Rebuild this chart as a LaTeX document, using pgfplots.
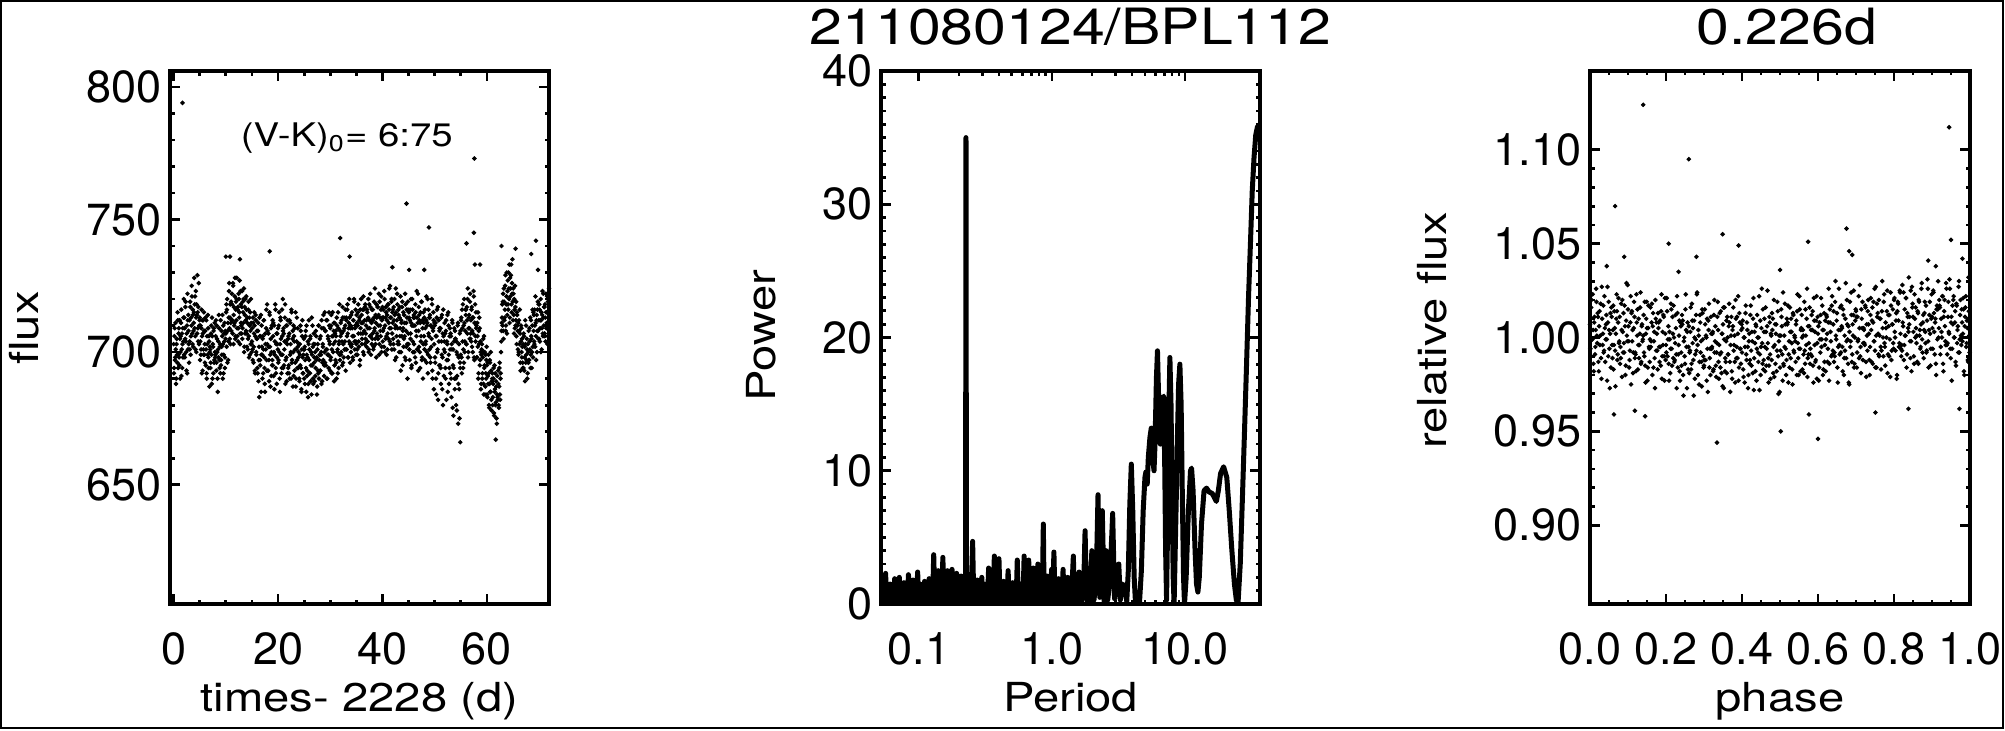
\documentclass[border=0pt]{standalone}
\usepackage{fontspec}
\setmainfont{TeX Gyre Heros}
\newfontfamily\widefont[FakeStretch=1.18]{TeX Gyre Heros}
\usepackage{pgfplots}
\pgfplotsset{compat=1.18}

% IDL-like box axes: ticks inside on all four sides
\pgfplotsset{
  every axis title shift=0pt,
  idl/.style={
    scale only axis, width=151.6pt, height=213.2pt,
    anchor=south west,
    axis line style={line width=1.7pt},
    tick align=inside,
    major tick length=4pt, minor tick length=1.8pt,
    every tick/.style={black, line width=1.1pt},
    tick label style={font=\fontsize{18}{20}\selectfont},
    /pgf/number format/assume math mode=true,
    xticklabel style={anchor=base, yshift=-24pt},
    label style={font=\widefont\fontsize{16}{18}\selectfont},
    xlabel style={at={(axis description cs:0.5,-0.2026)}, anchor=base},
    title style={font=\widefont\fontsize{20}{22}\selectfont,
      at={(axis description cs:0.5,1.05)}, anchor=base},
  },
  dots/.style={only marks, mark=*, mark size=0.7pt,
    mark options={draw=none, fill=black}},
}

\begin{document}
\begin{tikzpicture}
\useasboundingbox (0,0) rectangle (802pt,292pt);
\draw[line width=0.8pt] (0.4pt,0.8pt) rectangle (801pt,291.6pt);

% ---------------- light curve ----------------
\begin{axis}[idl, at={(68pt,50.4pt)},
  xmin=-0.7, xmax=71.9, ymin=605, ymax=806,
  xtick={0,20,40,60}, ytick={650,700,750,800},
  minor x tick num=3, minor y tick num=4,
  xlabel={times- 2228 (d)}, ylabel={flux},
  ylabel style={at={(axis description cs:-0.348,0.518)}, anchor=base}]
\addplot[dots] coordinates {
(0.0,703)(0.1,694)(0.2,709)(0.3,698)(0.4,701)(0.5,690)(0.6,705)(0.7,696)(0.8,712)(0.9,699)
(1.0,709)(1.1,695)(1.2,705)(1.3,700)(1.4,711)(1.5,691)(1.6,707)(1.7,703)(1.8,698)(1.9,713)
(2.0,699)(2.1,709)(2.2,705)(2.3,719)(2.4,700)(2.5,707)(2.6,692)(2.7,712)(2.8,714)(2.9,703)
(3.0,712)(3.1,701)(3.2,717)(3.3,706)(3.4,710)(3.5,721)(3.6,703)(3.7,714)(3.8,708)(3.9,715)
(4.0,709)(4.1,721)(4.2,701)(4.3,713)(4.4,718)(4.5,707)(4.6,715)(4.7,704)(4.8,726)(4.9,710)
(5.0,713)(5.1,704)(5.2,699)(5.3,709)(5.4,692)(5.5,712)(5.6,707)(5.7,701)(5.8,715)(5.9,699)
(6.0,696)(6.1,713)(6.2,701)(6.3,692)(6.4,706)(6.5,699)(6.6,709)(6.7,694)(6.8,704)(6.9,700)
(7.0,701)(7.1,696)(7.2,710)(7.3,688)(7.4,706)(7.5,703)(7.6,692)(7.7,709)(7.8,697)(7.9,700)
(8.0,699)(8.1,712)(8.2,696)(8.3,705)(8.4,690)(8.5,701)(8.6,698)(8.7,709)(8.8,694)(8.9,703)
(9.0,712)(9.1,697)(9.2,702)(9.3,706)(9.4,690)(9.5,710)(9.6,699)(9.7,704)(9.8,694)(9.9,708)
(10.0,707)(10.1,718)(10.2,716)(10.3,696)(10.4,711)(10.5,704)(10.6,723)(10.7,709)(10.8,713)(10.9,703)
(11.0,719)(11.1,712)(11.2,718)(11.3,707)(11.4,725)(11.5,714)(11.6,710)(11.7,721)(11.8,705)(11.9,716)
(12.0,712)(12.1,728)(12.2,706)(12.3,717)(12.4,709)(12.5,720)(12.6,715)(12.7,703)(12.8,723)(12.9,711)
(13.0,707)(13.1,723)(13.2,709)(13.3,715)(13.4,720)(13.5,700)(13.6,717)(13.7,707)(13.8,712)(13.9,721)
(14.0,707)(14.1,711)(14.2,701)(14.3,716)(14.4,706)(14.5,713)(14.6,699)(14.7,708)(14.8,720)(14.9,703)
(15.0,704)(15.1,701)(15.2,713)(15.3,696)(15.4,707)(15.5,710)(15.6,692)(15.7,714)(15.8,700)(15.9,705)
(16.0,705)(16.1,692)(16.2,711)(16.3,697)(16.4,683)(16.5,706)(16.6,695)(16.7,714)(16.8,699)(16.9,702)
(17.0,690)(17.1,706)(17.2,701)(17.3,712)(17.4,694)(17.5,685)(17.6,703)(17.7,709)(17.8,697)(17.9,718)
(18.0,708)(18.1,693)(18.2,702)(18.3,689)(18.4,714)(18.5,699)(18.6,705)(18.7,691)(18.8,710)(18.9,697)
(19.0,695)(19.1,711)(19.2,700)(19.3,686)(19.4,704)(19.5,716)(19.6,692)(19.7,707)(19.8,698)(19.9,703)
(20.0,709)(20.1,697)(20.2,715)(20.3,690)(20.4,703)(20.5,712)(20.6,699)(20.7,694)(20.8,706)(20.9,720)
(21.0,694)(21.1,707)(21.2,701)(21.3,713)(21.4,688)(21.5,704)(21.6,698)(21.7,710)(21.8,692)(21.9,705)
(22.0,706)(22.1,692)(22.2,712)(22.3,699)(22.4,703)(22.5,690)(22.6,715)(22.7,697)(22.8,708)(22.9,700)
(23.0,691)(23.1,704)(23.2,709)(23.3,696)(23.4,687)(23.5,701)(23.6,713)(23.7,694)(23.8,702)(23.9,698)
(24.0,703)(24.1,689)(24.2,699)(24.3,710)(24.4,694)(24.5,685)(24.6,706)(24.7,698)(24.8,692)(24.9,701)
(25.0,690)(25.1,702)(25.2,697)(25.3,708)(25.4,685)(25.5,699)(25.6,693)(25.7,704)(25.8,688)(25.9,712)
(26.0,701)(26.1,692)(26.2,706)(26.3,695)(26.4,684)(26.5,699)(26.6,710)(26.7,690)(26.8,703)(26.9,696)
(27.0,689)(27.1,700)(27.2,694)(27.3,706)(27.4,698)(27.5,687)(27.6,703)(27.7,692)(27.8,710)(27.9,697)
(28.0,705)(28.1,693)(28.2,699)(28.3,688)(28.4,709)(28.5,696)(28.6,702)(28.7,714)(28.8,691)(28.9,700)
(29.0,696)(29.1,708)(29.2,701)(29.3,690)(29.4,712)(29.5,699)(29.6,705)(29.7,694)(29.8,710)(29.9,703)
(30.0,709)(30.1,698)(30.2,714)(30.3,701)(30.4,692)(30.5,706)(30.6,703)(30.7,711)(30.8,695)(30.9,707)
(31.0,697)(31.1,706)(31.2,690)(31.3,710)(31.4,701)(31.5,715)(31.6,694)(31.7,704)(31.8,699)(31.9,708)
(32.0,711)(32.1,700)(32.2,707)(32.3,695)(32.4,713)(32.5,703)(32.6,698)(32.7,709)(32.8,704)(32.9,716)
(33.0,701)(33.1,712)(33.2,706)(33.3,718)(33.4,698)(33.5,709)(33.6,704)(33.7,713)(33.8,696)(33.9,710)
(34.0,714)(34.1,703)(34.2,709)(34.3,698)(34.4,712)(34.5,706)(34.6,719)(34.7,701)(34.8,710)(34.9,704)
(35.0,703)(35.1,711)(35.2,699)(35.3,715)(35.4,707)(35.5,702)(35.6,713)(35.7,697)(35.8,709)(35.9,720)
(36.0,714)(36.1,705)(36.2,711)(36.3,700)(36.4,716)(36.5,708)(36.6,703)(36.7,718)(36.8,707)(36.9,712)
(37.0,704)(37.1,715)(37.2,709)(37.3,720)(37.4,701)(37.5,712)(37.6,706)(37.7,717)(37.8,699)(37.9,711)
(38.0,716)(38.1,707)(38.2,712)(38.3,702)(38.4,719)(38.5,709)(38.6,705)(38.7,714)(38.8,698)(38.9,713)
(39.0,706)(39.1,717)(39.2,710)(39.3,722)(39.4,703)(39.5,713)(39.6,708)(39.7,716)(39.8,700)(39.9,712)
(40.0,717)(40.1,708)(40.2,713)(40.3,702)(40.4,720)(40.5,710)(40.6,705)(40.7,715)(40.8,699)(40.9,714)
(41.0,707)(41.1,718)(41.2,711)(41.3,724)(41.4,704)(41.5,713)(41.6,709)(41.7,719)(41.8,701)(41.9,715)
(42.0,716)(42.1,703)(42.2,712)(42.3,720)(42.4,697)(42.5,710)(42.6,715)(42.7,706)(42.8,722)(42.9,709)
(43.0,704)(43.1,714)(43.2,700)(43.3,717)(43.4,709)(43.5,693)(43.6,712)(43.7,706)(43.8,719)(43.9,708)
(44.0,715)(44.1,705)(44.2,711)(44.3,698)(44.4,718)(44.5,708)(44.6,702)(44.7,713)(44.8,690)(44.9,716)
(45.0,703)(45.1,713)(45.2,697)(45.3,716)(45.4,707)(45.5,711)(45.6,695)(45.7,720)(45.8,704)(45.9,710)
(46.0,714)(46.1,700)(46.2,710)(46.3,718)(46.4,696)(46.5,706)(46.6,713)(46.7,701)(46.8,722)(46.9,708)
(47.0,702)(47.1,712)(47.2,694)(47.3,715)(47.4,706)(47.5,719)(47.6,698)(47.7,709)(47.8,703)(47.9,711)
(48.0,713)(48.1,697)(48.2,709)(48.3,704)(48.4,721)(48.5,700)(48.6,711)(48.7,692)(48.8,716)(48.9,706)
(49.0,701)(49.1,714)(49.2,696)(49.3,710)(49.4,705)(49.5,718)(49.6,690)(49.7,708)(49.8,712)(49.9,703)
(50.0,710)(50.1,696)(50.2,706)(50.3,684)(50.4,713)(50.5,700)(50.6,717)(50.7,692)(50.8,704)(50.9,708)
(51.0,695)(51.1,709)(51.2,688)(51.3,704)(51.4,714)(51.5,698)(51.6,680)(51.7,706)(51.8,701)(51.9,711)
(52.0,707)(52.1,690)(52.2,712)(52.3,697)(52.4,703)(52.5,685)(52.6,715)(52.7,699)(52.8,694)(52.9,709)
(53.0,692)(53.1,706)(53.2,683)(53.3,701)(53.4,711)(53.5,695)(53.6,676)(53.7,704)(53.8,690)(53.9,708)
(54.0,705)(54.1,680)(54.2,700)(54.3,691)(54.4,710)(54.5,673)(54.6,698)(54.7,686)(54.8,707)(54.9,694)
(55.0,699)(55.1,713)(55.2,692)(55.3,709)(55.4,718)(55.5,701)(55.6,696)(55.7,711)(55.8,704)(55.9,716)
(56.0,716)(56.1,703)(56.2,712)(56.3,720)(56.4,698)(56.5,709)(56.6,714)(56.7,705)(56.8,722)(56.9,707)
(57.0,704)(57.1,717)(57.2,708)(57.3,700)(57.4,713)(57.5,721)(57.6,697)(57.7,711)(57.8,706)(57.9,715)
(58.0,710)(58.1,698)(58.2,706)(58.3,715)(58.4,692)(58.5,703)(58.6,709)(58.7,697)(58.8,700)(58.9,688)
(59.0,701)(59.1,690)(59.2,698)(59.3,705)(59.4,684)(59.5,694)(59.6,700)(59.7,687)(59.8,692)(59.9,697)
(60.0,695)(60.1,683)(60.2,691)(60.3,699)(60.4,680)(60.5,688)(60.6,696)(60.7,685)(60.8,693)(60.9,678)
(61.0,690)(61.1,680)(61.2,688)(61.3,694)(61.4,676)(61.5,685)(61.6,692)(61.7,681)(61.8,687)(61.9,673)
(62.0,691)(62.1,682)(62.2,688)(62.3,679)(62.4,694)(62.5,684)(62.6,690)(62.7,700)(62.8,708)(62.9,713)
(63.0,710)(63.1,722)(63.2,705)(63.3,719)(63.4,713)(63.5,725)(63.6,708)(63.7,718)(63.8,730)(63.9,714)
(64.0,727)(64.1,716)(64.2,724)(64.3,733)(64.4,713)(64.5,721)(64.6,729)(64.7,718)(64.8,726)(64.9,735)
(65.0,712)(65.1,722)(65.2,707)(65.3,716)(65.4,725)(65.5,710)(65.6,719)(65.7,703)(65.8,714)(65.9,708)
(66.0,711)(66.1,700)(66.2,708)(66.3,716)(66.4,696)(66.5,704)(66.6,709)(66.7,698)(66.8,702)(66.9,694)
(67.0,694)(67.1,706)(67.2,698)(67.3,689)(67.4,703)(67.5,710)(67.6,697)(67.7,701)(67.8,692)(67.9,700)
(68.0,708)(68.1,697)(68.2,704)(68.3,713)(68.4,699)(68.5,706)(68.6,694)(68.7,710)(68.8,702)(68.9,715)
(69.0,714)(69.1,703)(69.2,710)(69.3,721)(69.4,706)(69.5,712)(69.6,700)(69.7,716)(69.8,708)(69.9,718)
(70.0,705)(70.1,716)(70.2,709)(70.3,720)(70.4,712)(70.5,701)(70.6,714)(70.7,707)(70.8,722)(70.9,710)
(71.0,717)(71.1,706)(71.2,713)(71.3,722)(71.4,709)(71.5,715)(71.6,703)(71.7,719)(71.8,711)(71.9,724)
(1.7,794)(57.6,773)(44.6,756)(48.9,747)(31.9,743)(57.5,745)(56.1,741)(69.4,742)
(62.8,740)(65.5,739)(33.7,736)(18.4,738)(10.0,736)(10.8,736)(12.7,735)(41.9,732)
(45.1,731)(48.0,731)(57.7,733)(58.7,733)(54.9,666)(61.7,667)(68.5,737)(69.8,731)
};
\addplot[dots] coordinates {
(0.05,692)(0.15,706)(0.25,697)(0.35,711)(0.45,688)(0.55,703)(0.65,699)(0.75,715)(0.85,694)(0.95,707)
(1.05,698)(1.15,712)(1.25,690)(1.35,706)(1.45,716)(1.55,701)(1.65,694)(1.75,709)(1.85,704)(1.95,720)
(2.05,713)(2.15,698)(2.25,717)(2.35,704)(2.45,693)(2.55,710)(2.65,722)(2.75,701)(2.85,708)(2.95,696)
(3.05,704)(3.15,719)(3.25,699)(3.35,713)(3.45,725)(3.55,707)(3.65,716)(3.75,702)(3.85,711)(3.95,728)
(4.05,718)(4.15,706)(4.25,723)(4.35,700)(4.45,714)(4.55,729)(4.65,709)(4.75,717)(4.85,703)(4.95,712)
(5.05,697)(5.15,710)(5.25,701)(5.35,716)(5.45,706)(5.55,693)(5.65,712)(5.75,699)(5.85,708)(5.95,703)
(6.05,708)(6.15,695)(6.25,712)(6.35,690)(6.45,703)(6.55,714)(6.65,698)(6.75,706)(6.85,687)(6.95,702)
(7.05,694)(7.15,707)(7.25,699)(7.35,713)(7.45,690)(7.55,702)(7.65,708)(7.75,696)(7.85,711)(7.95,698)
(8.05,706)(8.15,693)(8.25,710)(8.35,700)(8.45,685)(8.55,704)(8.65,714)(8.75,697)(8.85,702)(8.95,692)
(9.05,695)(9.15,708)(9.25,699)(9.35,714)(9.45,703)(9.55,692)(9.65,707)(9.75,711)(9.85,698)(9.95,705)
(10.05,715)(10.15,702)(10.25,720)(10.35,708)(10.45,697)(10.55,713)(10.65,726)(10.75,705)(10.85,718)(10.95,711)
(11.05,708)(11.15,722)(11.25,712)(11.35,726)(11.45,703)(11.55,717)(11.65,711)(11.75,728)(11.85,706)(11.95,719)
(12.05,720)(12.15,709)(12.25,716)(12.35,704)(12.45,722)(12.55,713)(12.65,727)(12.75,707)(12.85,718)(12.95,710)
(13.05,717)(13.15,705)(13.25,719)(13.35,711)(13.45,724)(13.55,702)(13.65,714)(13.75,720)(13.85,708)(13.95,716)
(14.05,702)(14.15,713)(14.25,705)(14.35,719)(14.45,698)(14.55,710)(14.65,715)(14.75,703)(14.85,711)(14.95,700)
(15.05,709)(15.15,697)(15.25,711)(15.35,702)(15.45,715)(15.55,693)(15.65,706)(15.75,712)(15.85,699)(15.95,708)
(16.05,694)(16.15,708)(16.25,689)(16.35,702)(16.45,713)(16.55,697)(16.65,706)(16.75,685)(16.85,710)(16.95,699)
(17.05,705)(17.15,692)(17.25,712)(17.35,698)(17.45,688)(17.55,707)(17.65,701)(17.75,716)(17.85,693)(17.95,703)
(18.05,693)(18.15,707)(18.25,697)(18.35,715)(18.45,702)(18.55,687)(18.65,709)(18.75,700)(18.85,695)(18.95,712)
(19.05,706)(19.15,691)(19.25,710)(19.35,699)(19.45,718)(19.55,694)(19.65,703)(19.75,688)(19.85,707)(19.95,701)
(20.05,696)(20.15,710)(20.25,700)(20.35,685)(20.45,713)(20.55,705)(20.65,692)(20.75,716)(20.85,699)(20.95,708)
(21.05,709)(21.15,695)(21.25,704)(21.35,718)(21.45,697)(21.55,710)(21.65,689)(21.75,703)(21.85,712)(21.95,694)
(22.05,695)(22.15,707)(22.25,690)(22.35,711)(22.45,700)(22.55,716)(22.65,696)(22.75,705)(22.85,687)(22.95,710)
(23.05,706)(23.15,693)(23.25,701)(23.35,715)(23.45,690)(23.55,704)(23.65,697)(23.75,709)(23.85,694)(23.95,700)
(24.05,690)(24.15,703)(24.25,695)(24.35,708)(24.45,686)(24.55,701)(24.65,712)(24.75,692)(24.85,699)(24.95,705)
(25.05,701)(25.15,688)(25.25,706)(25.35,694)(25.45,710)(25.55,691)(25.65,698)(25.75,683)(25.85,703)(25.95,697)
(26.05,692)(26.15,705)(26.25,689)(26.35,700)(26.45,713)(26.55,695)(26.65,702)(26.75,688)(26.85,707)(26.95,698)
(27.05,703)(27.15,691)(27.25,708)(27.35,697)(27.45,684)(27.55,701)(27.65,693)(27.75,710)(27.85,690)(27.95,699)
(28.05,693)(28.15,706)(28.25,700)(28.35,712)(28.45,689)(28.55,703)(28.65,697)(28.75,709)(28.85,695)(28.95,715)
(29.05,708)(29.15,695)(29.25,712)(29.35,701)(29.45,690)(29.55,706)(29.65,699)(29.75,715)(29.85,704)(29.95,693)
(30.05,697)(30.15,710)(30.25,692)(30.35,706)(30.45,715)(30.55,700)(30.65,708)(30.75,689)(30.85,711)(30.95,704)
(31.05,708)(31.15,696)(31.25,713)(31.35,700)(31.45,692)(31.55,709)(31.65,703)(31.75,718)(31.85,697)(31.95,706)
(32.05,699)(32.15,712)(32.25,704)(32.35,717)(32.45,696)(32.55,708)(32.65,713)(32.75,701)(32.85,710)(32.95,693)
(33.05,713)(33.15,701)(33.25,716)(33.35,707)(33.45,698)(33.55,711)(33.65,720)(33.75,703)(33.85,709)(33.95,700)
(34.05,702)(34.15,715)(34.25,706)(34.35,697)(34.45,712)(34.55,720)(34.65,704)(34.75,709)(34.85,716)(34.95,699)
(35.05,714)(35.15,701)(35.25,710)(35.35,718)(35.45,704)(35.55,712)(35.65,695)(35.75,716)(35.85,707)(35.95,711)
(36.05,703)(36.15,716)(36.25,707)(36.35,721)(36.45,699)(36.55,712)(36.65,717)(36.75,705)(36.85,710)(36.95,702)
(37.05,716)(37.15,704)(37.25,713)(37.35,700)(37.45,718)(37.55,709)(37.65,722)(37.75,706)(37.85,712)(37.95,703)
(38.05,705)(38.15,716)(38.25,701)(38.35,713)(38.45,708)(38.55,724)(38.65,703)(38.75,711)(38.85,718)(38.95,707)
(39.05,717)(39.15,705)(39.25,714)(39.35,699)(39.45,719)(39.55,710)(39.65,706)(39.75,721)(39.85,702)(39.95,713)
(40.05,704)(40.15,716)(40.25,709)(40.35,723)(40.45,700)(40.55,713)(40.65,717)(40.75,706)(40.85,712)(40.95,701)
(41.05,718)(41.15,705)(41.25,716)(41.35,709)(41.45,725)(41.55,703)(41.65,713)(41.75,720)(41.85,707)(41.95,711)
(42.05,705)(42.15,717)(42.25,701)(42.35,714)(42.45,709)(42.55,724)(42.65,698)(42.75,712)(42.85,718)(42.95,703)
(43.05,716)(43.15,703)(43.25,713)(43.35,706)(43.45,721)(43.55,700)(43.65,711)(43.75,717)(43.85,695)(43.95,709)
(44.05,702)(44.15,714)(44.25,706)(44.35,722)(44.45,697)(44.55,711)(44.65,716)(44.75,703)(44.85,719)(44.95,707)
(45.05,715)(45.15,701)(45.25,712)(45.35,705)(45.45,720)(45.55,694)(45.65,710)(45.75,716)(45.85,700)(45.95,713)
(46.05,703)(46.15,713)(46.25,698)(46.35,715)(46.45,708)(46.55,723)(46.65,701)(46.75,711)(46.85,693)(46.95,717)
(47.05,714)(47.15,700)(47.25,711)(47.35,704)(47.45,719)(47.55,697)(47.65,712)(47.75,690)(47.85,715)(47.95,706)
(48.05,701)(48.15,716)(48.25,703)(48.35,712)(48.45,696)(48.55,710)(48.65,720)(48.75,699)(48.85,707)(48.95,713)
(49.05,713)(49.15,698)(49.25,710)(49.35,702)(49.45,720)(49.55,693)(49.65,709)(49.75,715)(49.85,686)(49.95,711)
(50.05,698)(50.15,711)(50.25,690)(50.35,706)(50.45,716)(50.55,701)(50.65,682)(50.75,712)(50.85,695)(50.95,709)
(51.05,709)(51.15,694)(51.25,713)(51.35,699)(51.45,686)(51.55,707)(51.65,716)(51.75,691)(51.85,704)(51.95,700)
(52.05,694)(52.15,708)(52.25,682)(52.35,704)(52.45,714)(52.55,697)(52.65,710)(52.75,688)(52.85,706)(52.95,701)
(53.05,707)(53.15,690)(53.25,703)(53.35,712)(53.45,679)(53.55,701)(53.65,694)(53.75,709)(53.85,686)(53.95,705)
(54.05,690)(54.15,704)(54.25,678)(54.35,699)(54.45,711)(54.55,688)(54.65,703)(54.75,675)(54.85,696)(54.95,708)
(55.05,712)(55.15,698)(55.25,716)(55.35,704)(55.45,694)(55.55,710)(55.65,720)(55.75,700)(55.85,708)(55.95,714)
(56.05,703)(56.15,717)(56.25,707)(56.35,724)(56.45,700)(56.55,713)(56.65,709)(56.75,719)(56.85,705)(56.95,712)
(57.05,716)(57.15,702)(57.25,713)(57.35,707)(57.45,723)(57.55,698)(57.65,711)(57.75,718)(57.85,704)(57.95,709)
(58.05,698)(58.15,711)(58.25,702)(58.35,690)(58.45,708)(58.55,713)(58.65,695)(58.75,704)(58.85,686)(58.95,699)
(59.05,703)(59.15,692)(59.25,700)(59.35,688)(59.45,706)(59.55,695)(59.65,684)(59.75,699)(59.85,690)(59.95,702)
(60.05,684)(60.15,696)(60.25,688)(60.35,692)(60.45,679)(60.55,697)(60.65,685)(60.75,700)(60.85,682)(60.95,689)
(61.05,692)(61.15,683)(61.25,690)(61.35,677)(61.45,695)(61.55,686)(61.65,680)(61.75,689)(61.85,675)(61.95,684)
(62.05,683)(62.15,693)(62.25,680)(62.35,687)(62.45,696)(62.55,682)(62.65,692)(62.75,704)(62.85,711)(62.95,718)
(63.05,719)(63.15,708)(63.25,724)(63.35,712)(63.45,716)(63.55,729)(63.65,710)(63.75,721)(63.85,707)(63.95,723)
(64.05,718)(64.15,730)(64.25,720)(64.35,711)(64.45,728)(64.55,724)(64.65,733)(64.75,715)(64.85,722)(64.95,719)
(65.05,724)(65.15,714)(65.25,720)(65.35,709)(65.45,717)(65.55,712)(65.65,706)(65.75,715)(65.85,710)(65.95,701)
(66.05,699)(66.15,712)(66.25,703)(66.35,707)(66.45,693)(66.55,710)(66.65,700)(66.75,705)(66.85,696)(66.95,703)
(67.05,707)(67.15,693)(67.25,702)(67.35,712)(67.45,696)(67.55,699)(67.65,705)(67.75,690)(67.85,703)(67.95,696)
(68.05,697)(68.15,709)(68.25,701)(68.35,694)(68.45,712)(68.55,705)(68.65,700)(68.75,716)(68.85,698)(68.95,708)
(69.05,704)(69.15,716)(69.25,702)(69.35,711)(69.45,697)(69.55,714)(69.65,708)(69.75,719)(69.85,705)(69.95,712)
(70.05,718)(70.15,704)(70.25,712)(70.35,700)(70.45,715)(70.55,709)(70.65,723)(70.75,706)(70.85,713)(70.95,717)
(71.05,707)(71.15,718)(71.25,704)(71.35,715)(71.45,711)(71.55,721)(71.65,706)(71.75,713)(71.85,717)(71.95,708)
};
\node[anchor=base west, font=\widefont\fontsize{13}{15}\selectfont]
  at (axis cs:11.2,777.7) {(V-K)\textsubscript{0}= 6:75};
\end{axis}

% ---------------- periodogram ----------------
\begin{axis}[idl, at={(352.4pt,50.4pt)},
  xmode=log, xmin=0.052, xmax=36.6, ymin=0, ymax=40,
  xtick={0.1,1,10}, xticklabels={0.1,1.0,10.0},
  ytick={0,10,20,30,40}, minor y tick num=9,
  xlabel={Period}, ylabel={Power},
  title={211080124/BPL112},
  ylabel style={at={(axis description cs:-0.2797,0.503)}, anchor=base}]
\addplot[black, line width=2pt, line join=round] coordinates {
(0.0520,1.3)(0.0530,0.1)(0.0541,1.6)(0.0552,0.3)(0.0563,2.3)(0.0574,0.0)(0.0586,1.2)(0.0597,0.4)
(0.0609,1.5)(0.0621,0.1)(0.0634,1.0)(0.0646,0.2)(0.0659,1.9)(0.0673,0.0)(0.0686,1.3)(0.0700,0.3)
(0.0714,2.0)(0.0728,0.1)(0.0743,1.1)(0.0758,0.4)(0.0773,1.6)(0.0788,0.0)(0.0804,1.2)(0.0820,0.2)
(0.0836,2.2)(0.0853,0.1)(0.0870,1.4)(0.0888,0.3)(0.0905,1.8)(0.0924,0.0)(0.0942,1.3)(0.0961,0.2)
(0.0980,2.4)(0.1000,0.1)(0.1020,1.5)(0.1040,0.3)(0.1061,1.1)(0.1082,0.0)(0.1104,1.7)(0.1126,0.2)
(0.1149,1.4)(0.1172,0.1)(0.1195,1.9)(0.1219,0.3)(0.1243,1.2)(0.1268,0.0)(0.1294,3.7)(0.1319,0.2)
(0.1346,1.5)(0.1373,0.1)(0.1400,2.5)(0.1428,0.3)(0.1457,1.3)(0.1486,0.1)(0.1516,3.5)(0.1546,0.2)
(0.1577,1.6)(0.1609,0.0)(0.1641,2.5)(0.1674,0.3)(0.1707,1.2)(0.1741,0.1)(0.1776,2.6)(0.1812,0.2)
(0.1848,1.4)(0.1885,0.0)(0.1923,2.3)(0.1961,0.4)(0.2000,1.5)(0.2040,0.1)(0.2081,2.1)(0.2123,0.2)
(0.2165,1.3)(0.2209,0.1)(0.2245,1.4)(0.2262,35.0)(0.2280,0.3)(0.2298,1.6)(0.2344,0.1)(0.2391,2.2)
(0.2438,0.2)(0.2487,1.4)(0.2537,4.7)(0.2588,0.2)(0.2639,1.3)(0.2692,0.0)(0.2746,1.8)(0.2801,0.3)
(0.2857,1.2)(0.2914,0.1)(0.2972,2.0)(0.3032,0.2)(0.3092,1.5)(0.3154,0.0)(0.3217,1.1)(0.3282,0.3)
(0.3347,2.7)(0.3414,0.1)(0.3483,1.4)(0.3552,0.2)(0.3623,1.0)(0.3696,3.6)(0.3770,0.2)(0.3845,1.5)
(0.3922,0.1)(0.4000,3.4)(0.4080,0.3)(0.4162,1.3)(0.4245,0.0)(0.4330,1.7)(0.4417,0.2)(0.4505,1.2)
(0.4595,0.1)(0.4687,2.5)(0.4781,0.3)(0.4876,1.4)(0.4974,0.0)(0.5073,1.6)(0.5175,0.2)(0.5278,1.1)
(0.5384,0.1)(0.5492,3.3)(0.5601,0.3)(0.5713,1.5)(0.5828,0.0)(0.5944,1.2)(0.6063,0.2)(0.6184,3.6)
(0.6308,0.1)(0.6434,1.4)(0.6563,0.3)(0.6694,3.3)(0.6828,0.0)(0.6965,1.3)(0.7104,0.2)(0.7246,2.7)
(0.7391,0.1)(0.7539,1.6)(0.7690,0.4)(0.7843,3.0)(0.8000,0.1)(0.8160,1.2)(0.8323,0.2)(0.8490,1.5)
(0.8620,6.0)(0.8750,0.1)(0.8833,1.1)(0.9009,0.3)(0.9189,2.1)(0.9373,0.0)(0.9561,1.4)(0.9752,0.2)
(0.9947,2.6)(1.015,0.3)(1.035,3.9)(1.056,0.1)(1.077,1.3)(1.098,0.2)(1.120,1.9)(1.143,0.0)
(1.165,1.1)(1.189,0.3)(1.213,2.6)(1.237,0.1)(1.261,1.2)(1.287,0.2)(1.312,2.0)(1.339,0.0)
(1.365,1.4)(1.393,0.3)(1.421,1.7)(1.449,3.6)(1.478,0.1)(1.508,1.0)(1.538,0.2)(1.600,2.4)
(1.665,0.0)(1.732,1.2)(1.775,5.5)(1.820,0.5)(1.875,0.0)(1.950,1.5)(1.996,4.0)(2.070,0.3)
(2.153,1.8)(2.220,8.2)(2.290,0.5)(2.340,3.0)(2.390,7.0)(2.470,0.2)(2.550,4.0)(2.625,0.3)
(2.731,1.8)(2.860,6.8)(2.956,0.4)(3.076,2.2)(3.180,3.0)(3.264,0.3)(3.396,1.5)
(3.55,1.2)(3.65,0.2)(3.75,2.5)(3.85,7.5)(3.95,10.5)(4.05,7)(4.15,2)(4.25,0)(4.4,0)
(4.55,0.1)(4.7,2.5)(4.85,7)(5.0,9.5)(5.08,9.9)(5.2,9)(5.3,11)(5.45,12.5)(5.58,13.2)
(5.7,11)(5.85,10)(5.95,12)(6.1,17)(6.21,19)(6.35,15)(6.45,12.5)(6.53,12)(6.7,14)
(6.85,15.5)(6.92,15.6)(7.05,10)(7.15,4)(7.27,0.3)(7.4,6)(7.55,14)(7.7,18.5)(7.85,15)
(8.0,8)(8.15,2)(8.28,0)(8.4,3)(8.58,7.5)(8.75,12)(8.95,16.5)(9.15,18)(9.35,15)(9.55,8)
(9.75,2)(9.91,0)(10.2,2)(10.6,7)(11.0,10)(11.2,10.2)(11.5,8.5)(11.9,4)(12.2,1.5)
(12.5,0.9)(12.8,2)(13.3,6)(13.9,8.5)(14.5,8.7)(15.2,8.4)(16.0,8.3)(16.6,8)(17.2,7.7)
(17.8,8.5)(18.5,9.8)(19.5,10.3)(20.6,9.5)(21.5,7)(22.5,4)(23.5,1.5)(24.3,0.3)(25.0,0)
(26,3)(27,8)(28,13)(29,18)(30,23)(31,27)(32,31)(33,33.5)(34,35.2)(35,35.8)(36.6,36)
};
\end{axis}

% ---------------- phased light curve ----------------
\begin{axis}[idl, at={(636pt,50.4pt)}, width=152pt,
  xmin=0, xmax=1, ymin=0.858, ymax=1.142,
  xtick={0,0.2,0.4,0.6,0.8,1}, ytick={0.9,0.95,1,1.05,1.1},
  minor x tick num=3, minor y tick num=4,
  x tick label style={/pgf/number format/.cd, fixed, fixed zerofill, precision=1},
  y tick label style={/pgf/number format/.cd, fixed, fixed zerofill, precision=2},
  xlabel={phase}, ylabel={relative flux},
  title={0.226d},
  title style={at={(axis description cs:0.518,1.05)}},
  ylabel style={at={(axis description cs:-0.3789,0.514)}, anchor=base}]
\addplot[dots] coordinates {
(0.000,1.007)(0.002,0.990)(0.004,1.020)(0.006,0.999)(0.008,1.004)(0.010,0.982)(0.012,1.011)(0.014,0.995)(0.016,1.026)(0.018,1.001)
(0.020,1.013)(0.022,0.987)(0.024,1.006)(0.026,0.996)(0.028,1.018)(0.030,0.978)(0.032,1.010)(0.034,1.002)(0.036,0.992)(0.038,1.022)
(0.040,0.987)(0.042,1.007)(0.044,0.999)(0.046,1.027)(0.048,0.990)(0.050,1.004)(0.052,0.973)(0.054,1.013)(0.056,1.016)(0.058,0.996)
(0.060,1.004)(0.062,0.983)(0.064,1.014)(0.066,0.993)(0.068,1.002)(0.070,1.023)(0.072,0.988)(0.074,1.008)(0.076,0.997)(0.078,1.011)
(0.080,0.995)(0.082,1.018)(0.084,0.979)(0.086,1.003)(0.088,1.013)(0.090,0.992)(0.092,1.006)(0.094,0.985)(0.096,1.029)(0.098,0.998)
(0.100,1.015)(0.102,0.998)(0.104,0.988)(0.106,1.008)(0.108,0.975)(0.110,1.014)(0.112,1.004)(0.114,0.992)(0.116,1.019)(0.118,0.989)
(0.120,0.991)(0.122,1.023)(0.124,1.001)(0.126,0.983)(0.128,1.010)(0.130,0.996)(0.132,1.016)(0.134,0.986)(0.136,1.006)(0.138,0.998)
(0.140,1.001)(0.142,0.992)(0.144,1.019)(0.146,0.976)(0.148,1.010)(0.150,1.005)(0.152,0.984)(0.154,1.017)(0.156,0.994)(0.158,0.999)
(0.160,0.995)(0.162,1.008)(0.164,0.980)(0.166,1.013)(0.168,0.998)(0.170,0.989)(0.172,1.020)(0.174,0.993)(0.176,1.002)(0.178,0.983)
(0.180,1.005)(0.182,0.995)(0.184,1.009)(0.186,0.985)(0.188,1.023)(0.190,0.990)(0.192,0.996)(0.194,1.011)(0.196,0.977)(0.198,1.002)
(0.200,0.996)(0.202,1.021)(0.204,0.990)(0.206,1.006)(0.208,0.977)(0.210,0.999)(0.212,0.994)(0.214,1.015)(0.216,0.985)(0.218,1.002)
(0.220,1.017)(0.222,0.987)(0.224,0.997)(0.226,1.005)(0.228,0.973)(0.230,1.013)(0.232,0.991)(0.234,1.001)(0.236,0.982)(0.238,1.008)
(0.240,0.992)(0.242,1.012)(0.244,1.009)(0.246,0.969)(0.248,1.000)(0.250,0.986)(0.252,1.023)(0.254,0.995)(0.256,1.003)(0.258,0.983)
(0.260,1.006)(0.262,0.992)(0.264,1.003)(0.266,0.983)(0.268,1.018)(0.270,0.997)(0.272,0.988)(0.274,1.009)(0.276,0.978)(0.278,0.999)
(0.280,0.993)(0.282,1.024)(0.284,0.980)(0.286,1.001)(0.288,0.987)(0.290,1.008)(0.292,0.998)(0.294,0.974)(0.296,1.013)(0.298,0.990)
(0.300,0.985)(0.302,1.015)(0.304,0.988)(0.306,1.000)(0.308,1.010)(0.310,0.971)(0.312,1.004)(0.314,0.984)(0.316,0.994)(0.318,1.011)
(0.320,0.994)(0.322,1.002)(0.324,0.982)(0.326,1.012)(0.328,0.992)(0.330,1.006)(0.332,0.979)(0.334,0.997)(0.336,1.019)(0.338,0.987)
(0.340,0.996)(0.342,0.991)(0.344,1.014)(0.346,0.981)(0.348,1.002)(0.350,1.007)(0.352,0.973)(0.354,1.016)(0.356,0.989)(0.358,0.998)
(0.360,0.981)(0.362,1.000)(0.364,0.991)(0.366,1.018)(0.368,0.987)(0.370,0.996)(0.372,1.011)(0.374,0.978)(0.376,1.006)(0.378,0.993)
(0.380,1.001)(0.382,0.976)(0.384,1.010)(0.386,0.995)(0.388,0.989)(0.390,1.022)(0.392,0.984)(0.394,1.008)(0.396,0.994)(0.398,1.004)
(0.400,0.992)(0.402,1.009)(0.404,0.979)(0.406,1.000)(0.408,0.995)(0.410,1.017)(0.412,0.988)(0.414,1.004)(0.416,0.973)(0.418,0.998)
(0.420,0.986)(0.422,1.012)(0.424,0.993)(0.426,1.003)(0.428,0.981)(0.430,1.021)(0.432,0.989)(0.434,0.997)(0.436,1.007)(0.438,0.977)
(0.440,1.012)(0.442,0.992)(0.444,1.000)(0.446,0.972)(0.448,1.009)(0.450,0.995)(0.452,1.026)(0.454,0.986)(0.456,0.983)(0.458,1.003)
(0.460,0.995)(0.462,1.016)(0.464,0.985)(0.466,1.006)(0.468,0.997)(0.470,0.976)(0.472,1.011)(0.474,0.991)(0.476,1.002)(0.478,0.988)
(0.480,1.004)(0.482,0.981)(0.484,1.020)(0.486,0.996)(0.488,0.986)(0.490,1.007)(0.492,0.993)(0.494,1.014)(0.496,0.970)(0.498,1.001)
(0.500,0.984)(0.502,1.001)(0.504,1.011)(0.506,0.991)(0.508,1.024)(0.510,0.985)(0.512,0.995)(0.514,1.007)(0.516,0.980)(0.518,1.010)
(0.520,1.008)(0.522,0.976)(0.524,0.998)(0.526,1.016)(0.528,0.989)(0.530,1.003)(0.532,0.983)(0.534,1.013)(0.536,0.993)(0.538,1.001)
(0.540,0.998)(0.542,1.007)(0.544,0.980)(0.546,1.023)(0.548,0.989)(0.550,0.994)(0.552,1.015)(0.554,0.982)(0.556,1.005)(0.558,1.000)
(0.560,1.004)(0.562,0.991)(0.564,1.019)(0.566,0.986)(0.568,1.001)(0.570,1.010)(0.572,0.979)(0.574,1.006)(0.576,0.997)(0.578,1.016)
(0.580,0.994)(0.582,1.004)(0.584,0.990)(0.586,1.014)(0.588,0.976)(0.590,1.009)(0.592,1.003)(0.594,0.988)(0.596,1.022)(0.598,0.997)
(0.600,1.002)(0.602,0.977)(0.604,1.008)(0.606,0.992)(0.608,1.021)(0.610,0.999)(0.612,1.004)(0.614,0.983)(0.616,1.013)(0.618,0.996)
(0.620,0.982)(0.622,1.012)(0.624,1.002)(0.626,0.994)(0.628,1.026)(0.630,0.986)(0.632,1.008)(0.634,0.998)(0.636,1.017)(0.638,0.991)
(0.640,1.007)(0.642,0.987)(0.644,0.990)(0.646,1.030)(0.648,0.999)(0.650,1.013)(0.652,0.976)(0.654,1.004)(0.656,0.996)(0.658,1.016)
(0.660,0.992)(0.662,1.006)(0.664,0.995)(0.666,1.015)(0.668,0.980)(0.670,1.001)(0.672,1.010)(0.674,0.989)(0.676,1.020)(0.678,0.999)
(0.680,1.006)(0.682,0.975)(0.684,1.019)(0.686,0.998)(0.688,1.012)(0.690,0.991)(0.692,1.001)(0.694,1.025)(0.696,0.986)(0.698,1.009)
(0.700,1.014)(0.702,0.984)(0.704,1.011)(0.706,0.999)(0.708,0.989)(0.710,1.028)(0.712,0.995)(0.714,1.015)(0.716,1.005)(0.718,0.988)
(0.720,1.005)(0.722,0.997)(0.724,1.017)(0.726,0.987)(0.728,1.007)(0.730,0.993)(0.732,1.020)(0.734,1.002)(0.736,0.980)(0.738,1.012)
(0.740,1.004)(0.742,1.009)(0.744,0.986)(0.746,1.019)(0.748,0.998)(0.750,0.993)(0.752,1.027)(0.754,0.984)(0.756,1.011)(0.758,1.002)
(0.760,1.020)(0.762,1.001)(0.764,1.010)(0.766,0.983)(0.768,1.014)(0.770,1.005)(0.772,0.990)(0.774,1.023)(0.776,0.995)(0.778,1.008)
(0.780,1.000)(0.782,1.025)(0.784,0.991)(0.786,1.006)(0.788,1.012)(0.790,0.979)(0.792,1.017)(0.794,0.993)(0.796,1.007)(0.798,0.997)
(0.800,1.020)(0.802,1.003)(0.804,0.993)(0.806,1.013)(0.808,0.980)(0.810,1.019)(0.812,1.009)(0.814,0.997)(0.816,1.024)(0.818,0.994)
(0.820,0.996)(0.822,1.028)(0.824,1.006)(0.826,0.988)(0.828,1.015)(0.830,1.001)(0.832,1.021)(0.834,0.991)(0.836,1.011)(0.838,1.003)
(0.840,1.007)(0.842,0.998)(0.844,1.025)(0.846,0.982)(0.848,1.016)(0.850,1.011)(0.852,0.990)(0.854,1.023)(0.856,1.000)(0.858,1.005)
(0.860,1.001)(0.862,1.014)(0.864,0.986)(0.866,1.019)(0.868,1.004)(0.870,0.995)(0.872,1.026)(0.874,0.999)(0.876,1.008)(0.878,0.989)
(0.880,1.013)(0.882,1.003)(0.884,1.017)(0.886,0.993)(0.888,1.031)(0.890,0.998)(0.892,1.004)(0.894,1.019)(0.896,0.985)(0.898,1.010)
(0.900,1.011)(0.902,0.994)(0.904,1.024)(0.906,1.003)(0.908,1.008)(0.910,0.986)(0.912,1.015)(0.914,0.999)(0.916,1.030)(0.918,1.005)
(0.920,1.017)(0.922,0.991)(0.924,1.010)(0.926,1.000)(0.928,1.022)(0.930,0.982)(0.932,1.014)(0.934,1.006)(0.936,0.996)(0.938,1.026)
(0.940,0.991)(0.942,1.011)(0.944,1.003)(0.946,1.031)(0.948,0.994)(0.950,1.008)(0.952,0.977)(0.954,1.017)(0.956,1.020)(0.958,1.000)
(0.960,1.008)(0.962,0.987)(0.964,1.018)(0.966,0.997)(0.968,1.006)(0.970,1.027)(0.972,0.992)(0.974,1.012)(0.976,1.001)(0.978,1.015)
(0.980,0.998)(0.982,1.021)(0.984,0.982)(0.986,1.006)(0.988,1.016)(0.990,0.995)(0.992,1.009)(0.994,0.988)(0.996,1.032)(0.998,1.001)
(0.140,1.124)(0.260,1.095)(0.066,1.070)(0.207,1.050)(0.349,1.055)(0.391,1.049)(0.574,1.051)
(0.675,1.058)(0.945,1.112)(0.950,1.052)(0.682,1.046)(0.690,1.044)(0.280,1.043)(0.233,1.035)
(0.500,1.036)(0.600,0.946)(0.334,0.944)(0.502,0.950)(0.063,0.959)(0.118,0.961)(0.145,0.958)
(0.576,0.959)(0.751,0.960)(0.838,0.962)(0.972,0.962)(0.044,1.038)(0.090,1.043)(0.980,1.042)
(0.890,1.041)(0.910,1.038)
};
\addplot[dots] coordinates {
(0.001,0.994)(0.003,1.016)(0.005,0.999)(0.007,1.023)(0.009,0.986)(0.011,1.008)(0.013,0.991)(0.015,1.004)(0.017,1.019)(0.019,0.997)
(0.021,1.011)(0.023,0.982)(0.025,1.014)(0.027,1.001)(0.029,0.989)(0.031,1.027)(0.033,0.996)(0.035,1.017)(0.037,0.993)(0.039,1.005)
(0.041,0.999)(0.043,1.012)(0.045,0.977)(0.047,1.008)(0.049,1.019)(0.051,0.994)(0.053,1.002)(0.055,0.984)(0.057,1.011)(0.059,0.989)
(0.061,1.017)(0.063,0.996)(0.065,1.005)(0.067,0.974)(0.069,1.010)(0.071,1.014)(0.073,0.991)(0.075,1.021)(0.077,0.998)(0.079,0.986)
(0.081,0.989)(0.083,1.004)(0.085,1.020)(0.087,0.992)(0.089,0.997)(0.091,1.017)(0.093,0.980)(0.095,1.009)(0.097,1.001)(0.099,1.028)
(0.101,1.006)(0.103,0.984)(0.105,0.993)(0.107,1.022)(0.109,1.013)(0.111,0.998)(0.113,0.981)(0.115,1.005)(0.117,1.011)(0.119,0.992)
(0.121,0.982)(0.123,1.008)(0.125,1.015)(0.127,0.996)(0.129,0.989)(0.131,1.002)(0.133,1.024)(0.135,0.987)(0.137,1.007)(0.139,0.999)
(0.141,1.012)(0.143,0.990)(0.145,0.985)(0.147,1.002)(0.149,1.019)(0.151,0.977)(0.153,1.005)(0.155,0.995)(0.157,0.987)(0.159,1.016)
(0.161,0.998)(0.163,1.018)(0.165,1.006)(0.167,0.984)(0.169,1.003)(0.171,0.973)(0.173,1.010)(0.175,1.008)(0.177,0.993)(0.179,1.013)
(0.181,1.008)(0.183,0.987)(0.185,0.995)(0.187,1.014)(0.189,0.978)(0.191,1.003)(0.193,1.012)(0.195,0.990)(0.197,1.021)(0.199,0.988)
(0.201,0.992)(0.203,1.014)(0.205,0.999)(0.207,0.986)(0.209,1.003)(0.211,0.981)(0.213,1.018)(0.215,0.994)(0.217,1.011)(0.219,0.989)
(0.221,1.000)(0.223,0.988)(0.225,1.012)(0.227,0.991)(0.229,1.022)(0.231,0.984)(0.233,0.996)(0.235,1.009)(0.237,0.977)(0.239,1.006)
(0.241,0.985)(0.243,1.007)(0.245,0.980)(0.247,0.998)(0.249,0.990)(0.251,1.015)(0.253,1.004)(0.255,0.973)(0.257,1.008)(0.259,0.995)
(0.261,0.981)(0.263,0.993)(0.265,1.016)(0.267,0.986)(0.269,1.009)(0.271,1.005)(0.273,0.969)(0.275,1.000)(0.277,0.991)(0.279,1.012)
(0.281,1.023)(0.283,0.996)(0.285,1.004)(0.287,0.975)(0.289,1.012)(0.291,0.992)(0.293,0.987)(0.295,1.015)(0.297,0.999)(0.299,0.984)
(0.301,0.988)(0.303,1.007)(0.305,1.001)(0.307,0.977)(0.309,0.994)(0.311,1.009)(0.313,1.018)(0.315,0.989)(0.317,0.980)(0.319,1.002)
(0.321,0.995)(0.323,1.003)(0.325,0.983)(0.327,1.020)(0.329,0.998)(0.331,0.985)(0.333,0.992)(0.335,1.011)(0.337,1.004)(0.339,0.978)
(0.341,1.013)(0.343,0.984)(0.345,0.992)(0.347,1.002)(0.349,0.974)(0.351,1.016)(0.353,0.999)(0.355,0.982)(0.357,0.987)(0.359,1.009)
(0.361,1.011)(0.363,0.991)(0.365,1.006)(0.367,1.008)(0.369,0.971)(0.371,1.001)(0.373,0.982)(0.375,1.004)(0.377,1.016)(0.379,0.996)
(0.381,0.987)(0.383,1.020)(0.385,0.989)(0.387,1.011)(0.389,1.002)(0.391,0.977)(0.393,1.013)(0.395,0.994)(0.397,0.986)(0.399,1.007)
(0.401,1.005)(0.403,0.983)(0.405,1.000)(0.407,0.976)(0.409,1.013)(0.411,0.991)(0.413,1.008)(0.415,0.995)(0.417,0.980)(0.419,1.002)
(0.421,0.988)(0.423,1.017)(0.425,0.985)(0.427,0.998)(0.429,1.010)(0.431,0.972)(0.433,1.003)(0.435,0.982)(0.437,1.006)(0.439,0.994)
(0.441,1.000)(0.443,0.987)(0.445,1.022)(0.447,0.991)(0.449,0.980)(0.451,1.005)(0.453,0.997)(0.455,1.015)(0.457,0.988)(0.459,1.010)
(0.461,0.982)(0.463,1.003)(0.465,0.994)(0.467,1.025)(0.469,0.989)(0.471,0.985)(0.473,1.008)(0.475,0.978)(0.477,1.001)(0.479,1.013)
(0.481,1.010)(0.483,0.995)(0.485,0.979)(0.487,1.007)(0.489,1.002)(0.491,0.982)(0.493,1.019)(0.495,0.990)(0.497,0.998)(0.499,0.971)
(0.501,0.993)(0.503,1.015)(0.505,1.006)(0.507,0.977)(0.509,0.986)(0.511,1.001)(0.513,1.018)(0.515,0.994)(0.517,0.988)(0.519,1.007)
(0.521,1.017)(0.523,0.991)(0.525,0.984)(0.527,1.003)(0.529,1.010)(0.531,0.997)(0.533,0.975)(0.535,1.012)(0.537,0.992)(0.539,1.000)
(0.541,0.987)(0.543,1.009)(0.545,1.014)(0.547,0.997)(0.549,0.980)(0.551,1.022)(0.553,0.994)(0.555,1.004)(0.557,1.012)(0.559,0.983)
(0.561,1.001)(0.563,0.981)(0.565,0.993)(0.567,1.015)(0.569,0.996)(0.571,1.026)(0.573,0.989)(0.575,0.991)(0.577,1.006)(0.579,0.986)
(0.581,0.991)(0.583,1.012)(0.585,1.004)(0.587,0.985)(0.589,1.021)(0.591,0.996)(0.593,0.987)(0.595,1.009)(0.597,0.978)(0.599,1.011)
(0.601,1.006)(0.603,0.984)(0.605,0.999)(0.607,1.012)(0.609,0.995)(0.611,1.017)(0.613,0.980)(0.615,1.004)(0.617,0.987)(0.619,1.009)
(0.621,0.999)(0.623,1.011)(0.625,0.987)(0.627,1.008)(0.629,0.977)(0.631,1.015)(0.633,1.003)(0.635,0.990)(0.637,1.022)(0.639,0.993)
(0.641,1.014)(0.643,0.992)(0.645,1.019)(0.647,1.001)(0.649,1.009)(0.651,0.984)(0.653,0.995)(0.655,1.026)(0.657,0.991)(0.659,1.004)
(0.661,1.017)(0.663,1.005)(0.665,0.982)(0.667,1.012)(0.669,0.989)(0.671,0.993)(0.673,1.029)(0.675,0.998)(0.677,1.007)(0.679,0.986)
(0.681,0.976)(0.683,1.003)(0.685,0.995)(0.687,1.024)(0.689,0.987)(0.691,1.007)(0.693,1.012)(0.695,0.984)(0.697,1.000)(0.699,1.015)
(0.701,1.011)(0.703,0.992)(0.705,0.998)(0.707,1.022)(0.709,1.005)(0.711,0.990)(0.713,0.981)(0.715,1.010)(0.717,1.019)(0.719,0.997)
(0.721,1.004)(0.723,0.996)(0.725,1.016)(0.727,0.979)(0.729,1.001)(0.731,1.014)(0.733,1.007)(0.735,0.988)(0.737,0.995)(0.739,1.021)
(0.741,0.987)(0.743,1.016)(0.745,1.008)(0.747,0.998)(0.749,1.026)(0.751,0.984)(0.753,1.001)(0.755,1.018)(0.757,1.013)(0.759,0.991)
(0.761,0.990)(0.763,1.010)(0.765,0.995)(0.767,0.993)(0.769,1.030)(0.771,1.000)(0.773,1.019)(0.775,0.997)(0.777,0.985)(0.779,1.005)
(0.781,1.014)(0.783,0.981)(0.785,1.012)(0.787,0.990)(0.789,0.999)(0.791,1.024)(0.793,0.988)(0.795,1.007)(0.797,1.015)(0.799,0.994)
(0.801,1.021)(0.803,1.000)(0.805,1.009)(0.807,0.978)(0.809,1.014)(0.811,1.018)(0.813,0.995)(0.815,1.025)(0.817,1.002)(0.819,0.990)
(0.821,0.993)(0.823,1.008)(0.825,1.024)(0.827,0.996)(0.829,1.001)(0.831,1.021)(0.833,0.984)(0.835,1.013)(0.837,1.005)(0.839,1.032)
(0.841,1.011)(0.843,0.989)(0.845,0.998)(0.847,1.027)(0.849,1.018)(0.851,1.003)(0.853,0.986)(0.855,1.010)(0.857,1.016)(0.859,0.997)
(0.861,0.987)(0.863,1.013)(0.865,1.020)(0.867,1.001)(0.869,0.994)(0.871,1.007)(0.873,1.029)(0.875,0.992)(0.877,1.012)(0.879,1.004)
(0.881,1.019)(0.883,0.997)(0.885,0.992)(0.887,1.009)(0.889,1.026)(0.891,0.984)(0.893,1.012)(0.895,1.002)(0.897,0.994)(0.899,1.023)
(0.901,1.005)(0.903,1.025)(0.905,1.013)(0.907,0.991)(0.909,1.010)(0.911,0.980)(0.913,1.017)(0.915,1.015)(0.917,1.000)(0.919,1.020)
(0.921,1.016)(0.923,0.995)(0.925,1.003)(0.927,1.022)(0.929,0.986)(0.931,1.011)(0.933,1.020)(0.935,0.998)(0.937,1.029)(0.939,0.996)
(0.941,0.997)(0.943,1.019)(0.945,1.002)(0.947,1.026)(0.949,0.989)(0.951,1.011)(0.953,0.994)(0.955,1.007)(0.957,1.022)(0.959,1.000)
(0.961,1.014)(0.963,0.985)(0.965,1.017)(0.967,1.004)(0.969,0.992)(0.971,1.030)(0.973,0.999)(0.975,1.020)(0.977,0.996)(0.979,1.008)
(0.981,1.002)(0.983,1.015)(0.985,0.980)(0.987,1.011)(0.989,1.022)(0.991,0.997)(0.993,1.005)(0.995,0.987)(0.997,1.014)(0.999,0.992)
};
\end{axis}
\end{tikzpicture}
\end{document}
